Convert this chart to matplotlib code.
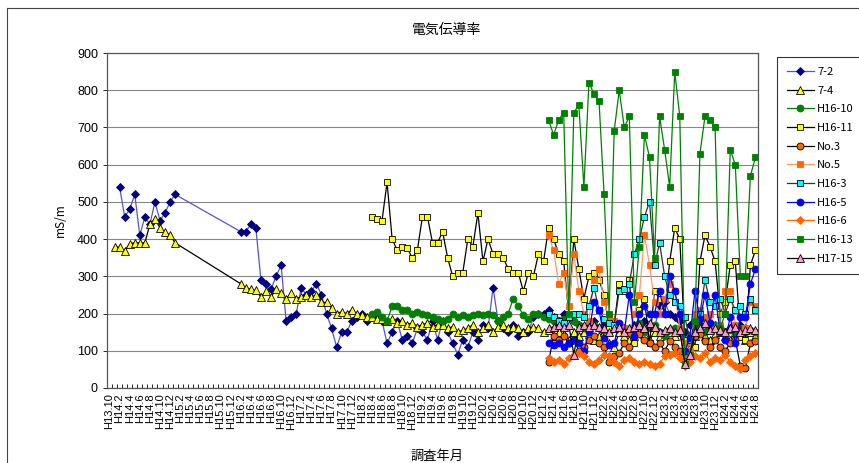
import numpy as np
import matplotlib.pyplot as plt
from matplotlib.lines import Line2D

plt.rcParams['font.family'] = ['Noto Sans CJK JP', 'DejaVu Sans']

# survey months on the category axis: H13.10, then monthly from H14.1
months = ['H13.10'] + ['H%d.%d' % (y, m) for y in range(14, 25) for m in range(1, 13)]
months = months[:months.index('H24.8') + 1]

title = '電気伝導率'
ylabel = 'mS/m'
xlabel = '調査年月'

gap12 = [None] * 12

v7_2 = ([540, 460, 480, 520, 410, 460, 440, 500, 450, 470, 500, 520] + gap12 +
        [420, 420, 440, 430, 290, 280, 265, 300, 330, 180,
         190, 200, 270, 250, 260, 280, 250, 200, 160, 110,
         150, 150, 180, 190, 200, 180, 190, 200, 180, 120,
         150, 180, 130, 140, 120, 160, 150, 130, 180, 130,
         180, 150, 120, 90, 130, 110, 150, 130, 170, 160,
         270, 180, 160, 150, 170, 140, 150, 150, 190, 200,
         200, 210, 190, 180, 200, 190, 180, 170, 160, 175,
         180, 160, 170, 150, 160, 170, 160, 150, 170, 170,
         180, 170, 160, 220, 230, 200, 190, 180, 150, 170,
         160, 170, 150, 160, 170, 160, 150, 160, 150, 170,
         160, 150, 150])

v7_4 = ([380, 378, 368, 388, 390, 390, 390, 440, 455, 430, 420, 410, 390] + gap12 +
        [280, 270, 265, 262, 245, 260, 245, 265, 255, 240,
         255, 240, 245, 250, 245, 250, 230, 230, 215, 200,
         205, 200, 210, 200, 195, 190, 190, 185, 185, 180,
         185, 175, 180, 170, 175, 165, 170, 175, 165, 170,
         170, 160, 165, 150, 155, 160, 170, 150, 160, 170,
         150, 165, 170, 160, 165, 160, 150, 160, 165, 160,
         150, 155, 140, 150, 145, 130, 150, 140, 150, 145,
         130, 140, 150, 120, 110, 150, 140, 130, 140, 150,
         145, 130, 150, 140, 145, 150, 140, 150, 80, 130,
         140, 150, 140, 130, 145, 150, 140, 130, 150, 140,
         130, 150, 140])

h16_10 = [200, 205, 190, 180, 220, 220, 210, 210, 200, 205,
          200, 195, 190, 185, 180, 185, 200, 190, 195, 190,
          195, 200, 195, 200, 195, 180, 190, 200, 240, 220,
          195, 185, 200, 200, 190, 185, 180, 170, 185, 190,
          180, 170, 160, 165, 170, 160, 155, 150, 160, 170,
          160, 150, 155, 175, 150, 160, 170, 150, 140, 155,
          160, 150, 130, 140, 150, 160, 150, 165, 170, 160,
          150, 155, 150, 160, 150, 155, 150]

h16_11 = [460, 455, 450, 553, 400, 370, 380, 375, 350, 370,
          460, 460, 390, 390, 420, 350, 300, 310, 310, 400,
          380, 470, 340, 400, 360, 360, 350, 320, 310, 310,
          260, 310, 300, 360, 340, 430, 400, 360, 340, 200,
          400, 320, 240, 300, 310, 290, 250, 160, 170, 280,
          260, 290, 120, 210, 240, 120, 260, 240, 200, 340,
          430, 400, 130, 130, 110, 340, 410, 380, 340, 200,
          230, 330, 340, 150, 130, 330, 370]

no3 = [70, 140, 130, 140, 120, 130, 100, 110, 130, 140,
       120, 110, 70, 85, 95, 120, 110, 140, 145, 130,
       120, 110, 120, 100, 125, 110, 100, 90, 120, 140,
       145, 125, 110, 130, 110, 100, 120, 130, 60, 55,
       120, 125]

no5 = [410, 370, 280, 310, 220, 360, 260, 200, 180, 290,
       320, 230, 190, 180, 170, 160, 150, 200, 250, 410,
       330, 230, 200, 240, 280, 260, 160, 120, 100, 200,
       210, 190, 200, 160, 170, 260, 260, 170, 150, 160,
       230, 220]

h16_3 = [200, 190, 180, 175, 190, 200, 200, 190, 220, 270,
         210, 185, 175, 170, 260, 265, 280, 360, 400, 460,
         500, 330, 390, 300, 250, 230, 220, 190, 130, 150,
         200, 290, 230, 220, 240, 200, 240, 210, 220, 200,
         240, 210]

h16_5 = [120, 115, 120, 110, 120, 130, 120, 100, 150, 230,
         210, 135, 115, 120, 175, 150, 250, 140, 200, 220,
         200, 200, 260, 200, 300, 260, 200, 100, 135, 260,
         185, 250, 175, 250, 150, 130, 190, 120, 190, 190,
         280, 320]

h16_6 = [80, 70, 75, 65, 80, 90, 95, 85, 70, 65,
         75, 90, 85, 70, 60, 75, 80, 70, 65, 70,
         65, 60, 65, 85, 90, 95, 80, 60, 70, 85,
         80, 95, 70, 80, 75, 90, 70, 60, 50, 75,
         85, 95]

h16_13 = [720, 680, 720, 740, 200, 740, 760, 540, 820, 790,
          770, 520, 200, 690, 800, 700, 730, 230, 380, 680,
          620, 350, 730, 640, 540, 850, 730, 65, 90, 180,
          630, 730, 720, 700, 160, 200, 640, 600, 300, 300,
          570, 620]

h17_15 = [160, 165, 170, 165, 170, 90, 165, 170, 165, 170,
          165, 160, 150, 160, 165, 150, 160, 165, 170, 160,
          175, 165, 150, 155, 160, 150, 155, 65, 90, 150,
          160, 175, 155, 160, 155, 150, 160, 165, 150, 155,
          160, 155]

# name, first month, values, line colour, marker, face, edge, size
series = [
    ('7-2',    'H14.2', v7_2,   '#5555cc', 'D', '#000080', '#000080', 4.5),
    ('7-4',    'H14.1', v7_4,   'black',   '^', '#ffff00', 'black',   5.5),
    ('H16-10', 'H18.4', h16_10, '#008000', 'o', '#008000', '#008000', 5),
    ('H16-11', 'H18.4', h16_11, 'black',   's', '#ffff00', 'black',   5),
    ('No.3',   'H21.3', no3,    'black',   'o', '#ff6600', 'black',   5),
    ('No.5',   'H21.3', no5,    '#ff9966', 's', '#ff6600', '#ff6600', 5),
    ('H16-3',  'H21.3', h16_3,  '#333333', 's', '#00ffff', 'black',   5),
    ('H16-5',  'H21.3', h16_5,  '#0000ff', 'o', '#0000ff', '#0000ff', 5),
    ('H16-6',  'H21.3', h16_6,  '#ff6600', 'D', '#ff6600', '#ff6600', 4.5),
    ('H16-13', 'H21.3', h16_13, '#008000', 's', '#008000', '#008000', 5),
    ('H17-15', 'H21.3', h17_15, 'black',   '^', '#ff99cc', 'black',   5.5),
]

W, H = 859, 463
fig = plt.figure(figsize=(W / 100, H / 100), dpi=100)
ax = fig.add_axes([107 / W, 1 - 388 / H, (758 - 107) / W, (388 - 53) / H])

for name, start, vals, lc, mk, fc, ec, ms in series:
    i0 = months.index(start)
    xs = [i0 + k for k, v in enumerate(vals) if v is not None]
    ys = [v for v in vals if v is not None]
    ax.plot(xs, ys, color=lc, lw=0.9, marker=mk, ms=ms, mfc=fc, mec=ec,
            mew=0.6, label=name)

ax.set_xlim(-0.5, len(months) - 0.5)
ax.set_ylim(0, 900)
ax.set_yticks(np.arange(0, 901, 100))
ax.grid(axis='y', color='#888888', lw=0.8)
ax.set_axisbelow(True)

ax.set_xticks(np.arange(0, len(months), 2))
ax.set_xticklabels(months[::2], rotation=90, fontsize=8,
                   family=['Liberation Sans', 'DejaVu Sans'])
ax.set_xticks(np.arange(-0.5, len(months), 1), minor=True)
ax.tick_params(axis='x', which='major', length=0, pad=4)
ax.tick_params(axis='x', which='minor', direction='in', length=3, width=0.6)
ax.tick_params(axis='y', labelsize=9, length=3, width=0.6)
for t in ax.get_yticklabels():
    t.set_family(['Liberation Sans', 'DejaVu Sans'])
for sp in ax.spines.values():
    sp.set_color('#555555')
    sp.set_linewidth(0.9)

fig.text(447 / W, 1 - 30 / H, title, ha='center', va='center', fontsize=10)
fig.text(60 / W, 1 - 220 / H, ylabel, ha='center', va='center', rotation=90,
         fontsize=8.5)
fig.text(437 / W, 1 - 456 / H, xlabel, ha='center', va='center', fontsize=9.5)

leg = ax.legend(loc='upper left', bbox_to_anchor=(777 / W, 1 - 57 / H),
                bbox_transform=fig.transFigure, fontsize=8, frameon=True,
                fancybox=False, edgecolor='black', handlelength=2.4,
                labelspacing=0.78, borderpad=0.9, handletextpad=0.3,
                borderaxespad=0)
leg.get_frame().set_linewidth(0.8)

# chart area border
fig.add_artist(Line2D([7 / W, 1], [1 - 8 / H] * 2, transform=fig.transFigure,
                      color='#444444', lw=0.8))
fig.add_artist(Line2D([7 / W] * 2, [1 - 8 / H, 0], transform=fig.transFigure,
                      color='#444444', lw=0.8))

fig.savefig('out.png', dpi=100)
